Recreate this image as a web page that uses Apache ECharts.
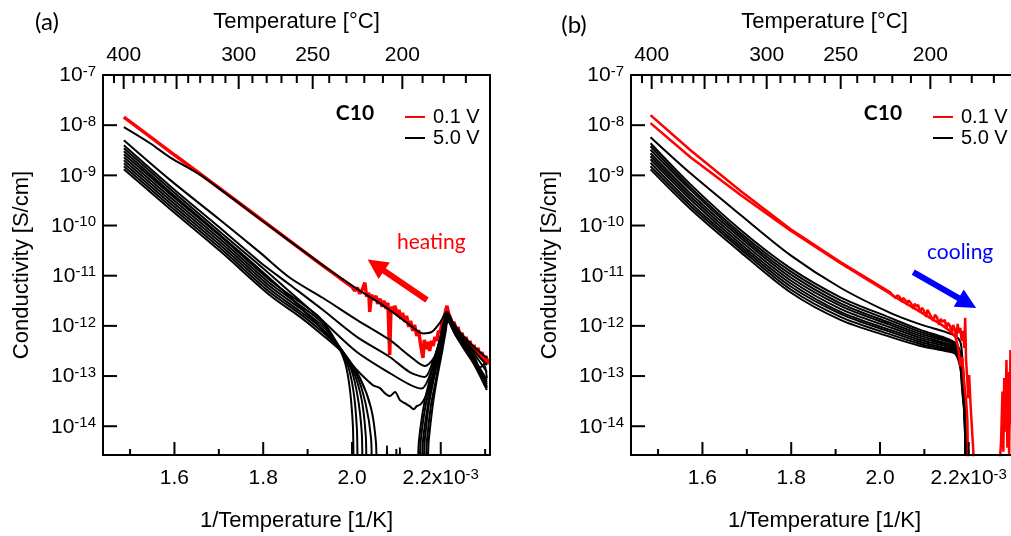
<!DOCTYPE html>
<html>
<head>
<meta charset="utf-8">
<script src="https://cdn.jsdelivr.net/npm/echarts@6/dist/echarts.min.js"></script>
<style>
  html, body { margin: 0; padding: 0; background: #fff; }
  #chart { width: 1011px; height: 536px; }
</style>
</head>
<body>
<div id="chart"></div>
<script>
// x: inverse temperature in 1e-3 K^-1, y: log10 of conductivity in S/cm

// ---- (a) heating run ----
const heatRed = [[1.486,-7.84],[1.545,-8.23],[1.601,-8.60],[1.658,-8.97],[1.714,-9.34],[1.770,-9.71],[1.826,-10.08],[1.883,-10.46],[1.928,-10.76],[1.973,-11.05],[2.000,-11.22],[2.006,-11.30],[2.012,-11.24],[2.018,-11.36],[2.023,-11.28],[2.029,-11.14],[2.033,-11.42],[2.038,-11.34],[2.040,-11.72],[2.044,-11.38],[2.049,-11.48],[2.054,-11.40],[2.058,-11.56],[2.063,-11.46],[2.068,-11.62],[2.072,-11.50],[2.077,-11.66],[2.081,-11.54],[2.085,-12.58],[2.088,-11.62],[2.093,-11.72],[2.097,-11.60],[2.102,-11.78],[2.106,-11.68],[2.110,-11.86],[2.114,-11.74],[2.119,-11.92],[2.123,-11.80],[2.128,-12.02],[2.132,-11.90],[2.137,-12.10],[2.141,-11.98],[2.146,-12.20],[2.150,-12.08],[2.155,-12.40],[2.160,-12.64],[2.163,-12.28],[2.167,-12.46],[2.171,-12.32],[2.175,-12.50],[2.179,-12.30],[2.183,-12.40],[2.187,-12.22],[2.191,-12.30],[2.195,-12.10],[2.199,-12.14],[2.203,-11.92],[2.207,-11.86],[2.211,-11.70],[2.214,-11.60],[2.218,-11.76],[2.222,-11.84],[2.226,-11.98],[2.230,-11.92],[2.235,-12.10],[2.239,-12.02],[2.243,-12.22],[2.248,-12.14],[2.252,-12.34],[2.257,-12.22],[2.261,-12.40],[2.266,-12.30],[2.270,-12.48],[2.275,-12.38],[2.279,-12.56],[2.284,-12.44],[2.288,-12.62],[2.293,-12.52],[2.297,-12.70],[2.302,-12.60],[2.306,-12.76],[2.310,-12.66]];

const heatB1 = [[1.486,-8.04],[1.545,-8.36],[1.590,-8.64],[1.658,-8.99],[1.714,-9.35],[1.770,-9.72],[1.826,-10.09],[1.883,-10.46],[1.928,-10.75],[1.973,-11.03],[2.018,-11.30],[2.063,-11.55],[2.097,-11.76],[2.130,-11.98],[2.160,-12.15],[2.180,-12.12],[2.198,-11.94],[2.214,-11.72],[2.227,-11.92],[2.243,-12.12],[2.266,-12.34],[2.288,-12.52],[2.304,-12.64]];
const heatB2 = [[1.486,-8.30],[1.590,-9.09],[1.703,-9.89],[1.793,-10.54],[1.860,-11.04],[1.934,-11.44],[2.011,-11.88],[2.085,-12.28],[2.130,-12.60],[2.164,-12.80],[2.187,-12.60],[2.200,-12.18],[2.214,-11.76],[2.232,-12.04],[2.254,-12.32],[2.277,-12.58],[2.304,-12.92]];
const heatB3 = [[1.486,-8.40],[1.590,-9.21],[1.703,-10.05],[1.793,-10.73],[1.860,-11.18],[1.934,-11.68],[2.011,-12.22],[2.085,-12.62],[2.130,-12.92],[2.164,-13.02],[2.182,-12.72],[2.198,-12.28],[2.214,-11.80],[2.232,-12.08],[2.254,-12.38],[2.277,-12.68],[2.304,-13.08]];
const heatB4 = [[1.486,-8.46],[1.590,-9.27],[1.703,-10.13],[1.793,-10.80],[1.860,-11.32],[1.934,-11.90],[2.011,-12.52],[2.085,-12.94],[2.130,-13.17],[2.157,-13.25],[2.180,-12.88],[2.198,-12.38],[2.214,-11.82],[2.232,-12.02],[2.254,-12.28],[2.277,-12.52],[2.304,-12.78]];
const heatB5 = [[1.486,-8.52],[1.590,-9.33],[1.703,-10.19],[1.793,-10.88],[1.860,-11.42],[1.934,-12.08],[1.973,-12.48],[1.995,-12.72],[2.011,-12.88],[2.029,-13.04],[2.047,-13.18],[2.063,-13.24],[2.074,-13.34],[2.085,-13.40],[2.097,-13.32],[2.108,-13.48],[2.119,-13.54],[2.130,-13.60],[2.139,-13.66],[2.146,-13.60],[2.155,-13.56],[2.164,-13.44],[2.175,-13.18],[2.187,-12.84],[2.198,-12.44],[2.214,-11.84],[2.232,-12.08],[2.254,-12.36],[2.277,-12.64],[2.288,-12.84],[2.297,-12.76],[2.304,-13.04]];
const heatB6 = [[1.486,-8.58],[1.590,-9.37],[1.703,-10.21],[1.815,-11.09],[1.883,-11.53],[1.928,-11.84],[1.962,-12.28],[1.984,-12.72],[1.995,-13.24],[2.002,-13.98],[2.007,-15.2],[2.142,-15.2],[2.151,-14.28],[2.162,-13.58],[2.175,-13.08],[2.191,-12.52],[2.205,-12.08],[2.214,-11.84],[2.232,-12.10],[2.254,-12.40],[2.277,-12.70],[2.304,-13.12]];
const heatB7 = [[1.486,-8.64],[1.590,-9.43],[1.703,-10.27],[1.815,-11.15],[1.883,-11.59],[1.928,-11.90],[1.966,-12.34],[1.991,-12.80],[2.004,-13.34],[2.011,-14.04],[2.016,-15.2],[2.146,-15.2],[2.155,-14.28],[2.166,-13.58],[2.180,-13.08],[2.193,-12.52],[2.207,-12.08],[2.214,-11.86],[2.232,-12.12],[2.254,-12.42],[2.277,-12.72],[2.304,-13.16]];
const heatB8 = [[1.486,-8.70],[1.590,-9.49],[1.703,-10.33],[1.815,-11.21],[1.883,-11.65],[1.928,-11.96],[1.971,-12.40],[1.998,-12.86],[2.013,-13.42],[2.022,-14.12],[2.027,-15.2],[2.076,-15.2],[2.079,-14.39],[2.081,-15.2],[2.151,-15.2],[2.160,-14.28],[2.171,-13.58],[2.182,-13.08],[2.196,-12.52],[2.207,-12.10],[2.214,-11.88],[2.232,-12.14],[2.254,-12.44],[2.277,-12.76],[2.304,-13.20]];
const heatB9 = [[1.486,-8.76],[1.590,-9.55],[1.703,-10.39],[1.815,-11.27],[1.883,-11.71],[1.928,-12.02],[1.975,-12.46],[2.004,-12.92],[2.022,-13.48],[2.031,-14.18],[2.036,-15.2],[2.155,-15.2],[2.164,-14.28],[2.173,-13.58],[2.184,-13.08],[2.198,-12.52],[2.209,-12.10],[2.216,-11.88],[2.232,-12.14],[2.254,-12.44],[2.277,-12.76],[2.304,-13.22]];
const heatB10 = [[1.486,-8.82],[1.590,-9.61],[1.703,-10.45],[1.815,-11.33],[1.883,-11.76],[1.928,-12.08],[1.980,-12.52],[2.011,-12.98],[2.031,-13.56],[2.043,-14.24],[2.047,-15.2],[2.106,-15.2],[2.108,-14.43],[2.110,-15.2],[2.160,-15.2],[2.169,-14.28],[2.178,-13.58],[2.189,-13.08],[2.200,-12.52],[2.209,-12.12],[2.216,-11.90],[2.232,-12.16],[2.254,-12.46],[2.277,-12.78],[2.304,-13.24]];
const heatB11 = [[1.486,-8.88],[1.590,-9.67],[1.703,-10.51],[1.815,-11.39],[1.883,-11.82],[1.928,-12.14],[1.984,-12.58],[2.018,-13.04],[2.043,-13.64],[2.054,-14.32],[2.058,-15.2],[2.164,-15.2],[2.173,-14.28],[2.182,-13.58],[2.191,-13.08],[2.203,-12.52],[2.211,-12.12],[2.216,-11.90],[2.232,-12.16],[2.254,-12.48],[2.277,-12.80],[2.304,-13.28]];

// ---- (b) cooling run ----
const coolRed1 = [[1.483,-7.80],[1.573,-8.50],[1.686,-9.31],[1.798,-10.07],[1.911,-10.73],[2.023,-11.33],[2.027,-11.38],[2.031,-11.36],[2.036,-11.45],[2.039,-11.39],[2.044,-11.42],[2.049,-11.52],[2.052,-11.44],[2.058,-11.50],[2.061,-11.58],[2.064,-11.49],[2.070,-11.55],[2.075,-11.66],[2.078,-11.56],[2.083,-11.62],[2.086,-11.58],[2.090,-11.72],[2.095,-11.64],[2.099,-11.70],[2.104,-11.82],[2.107,-11.68],[2.112,-11.76],[2.116,-11.74],[2.120,-11.90],[2.124,-11.78],[2.129,-11.84],[2.133,-11.98],[2.137,-11.86],[2.141,-11.92],[2.146,-11.88],[2.150,-12.06],[2.153,-11.94],[2.158,-12.00],[2.162,-12.16],[2.165,-11.98],[2.169,-12.08],[2.172,-12.24],[2.175,-11.96],[2.178,-12.14],[2.181,-12.04],[2.184,-12.30],[2.187,-12.10],[2.190,-12.44],[2.192,-11.84],[2.194,-12.68],[2.197,-13.12],[2.199,-13.44],[2.201,-12.98],[2.204,-13.56],[2.215,-15.2],[2.267,-15.2],[2.273,-14.27],[2.276,-13.31],[2.278,-14.51],[2.280,-13.04],[2.282,-14.11],[2.285,-12.68],[2.287,-14.43],[2.289,-12.92],[2.291,-14.60],[2.294,-12.48],[2.296,-13.97]];
const coolRed2 = [[1.483,-7.96],[1.573,-8.64],[1.686,-9.39],[1.798,-10.10],[1.911,-10.75],[2.023,-11.36],[2.046,-11.49],[2.068,-11.60],[2.091,-11.72],[2.113,-11.84],[2.136,-11.96],[2.158,-12.10],[2.170,-12.22],[2.176,-12.42],[2.181,-12.80],[2.185,-12.62],[2.190,-13.18],[2.194,-13.48],[2.197,-13.88],[2.199,-15.2]];

const coolX = [1.483, 1.573, 1.686, 1.798, 1.911, 2.023, 2.091, 2.147, 2.170, 2.181, 2.185, 2.190, 2.192, 2.194];
const coolB1  = [-8.24,-8.96,-9.79,-10.59,-11.24,-11.74,-11.97,-12.12,-12.20,-12.32,-12.58,-13.18,-13.88,-15.2];
const coolB2  = [-8.36,-9.18,-10.09,-10.85,-11.43,-11.84,-12.08,-12.24,-12.34,-12.52,-12.78,-13.38,-13.98,-15.2];
const coolB3  = [-8.42,-9.24,-10.15,-10.91,-11.49,-11.89,-12.12,-12.27,-12.37,-12.56,-12.84,-13.42,-14.02,-15.2];
const coolB4  = [-8.49,-9.29,-10.20,-10.97,-11.55,-11.94,-12.16,-12.30,-12.40,-12.60,-12.90,-13.48,-14.06,-15.2];
const coolB5  = [-8.56,-9.36,-10.25,-11.03,-11.60,-11.98,-12.20,-12.34,-12.42,-12.64,-12.96,-13.52,-14.10,-15.2];
const coolB6  = [-8.62,-9.42,-10.31,-11.09,-11.66,-12.03,-12.24,-12.37,-12.45,-12.68,-13.02,-13.58,-14.16,-15.2];
const coolB7  = [-8.68,-9.48,-10.37,-11.15,-11.72,-12.08,-12.28,-12.40,-12.48,-12.72,-13.08,-13.62,-14.20,-15.2];
const coolB8  = [-8.75,-9.55,-10.42,-11.21,-11.76,-12.12,-12.32,-12.44,-12.50,-12.76,-13.14,-13.66,-14.24,-15.2];
const coolB9  = [-8.82,-9.61,-10.47,-11.27,-11.82,-12.17,-12.36,-12.47,-12.53,-12.80,-13.20,-13.72,-14.28,-15.2];
const coolB10 = [-8.88,-9.67,-10.53,-11.33,-11.88,-12.22,-12.40,-12.50,-12.56,-12.84,-13.26,-13.76,-14.32,-15.2];

// ---- axis ticks ----
const invTMajor = [1.6, 1.8, 2.0, 2.2];
const invTMinor = [1.5, 1.7, 1.9, 2.1, 2.3];
const tempLabels = [400, 300, 250, 200];
const tempMajor = [400, 350, 300, 250, 200];
const tempMinor = [410, 390, 380, 370, 360, 340, 330, 320, 310, 290, 280, 270, 260, 240, 230, 220, 210, 190, 180, 170];
const sigmaDecades = [-14, -13, -12, -11, -10, -9, -8];

// ---- panel layout ----
const X_MIN = 1.439, X_MAX = 2.311;
const Y_MIN = 2.67e-15, Y_MAX = 1e-7;
const GRID_W = 387, GRID_H = 380;

const FONT = '"Liberation Sans", Arial, sans-serif';
const FONT_C = 'Lato, "Open Sans", sans-serif';
const RED = '#ff0000', BLACK = '#000000', BLUE = '#0000ff';

const toInvT = c => 1000 / (c + 273.15);
const pairs = arr => arr.map(([x, lg]) => [x, Math.pow(10, lg)]);
const shared = (xs, lgs) => xs.map((x, i) => [x, Math.pow(10, lgs[i])]);

const frameLine = () => ({ show: true, onZero: false, lineStyle: { color: '#000', width: 2 } });
const labelRich = {
  b: { fontFamily: FONT, fontSize: 21, color: '#000', lineHeight: 22, verticalAlign: 'bottom' },
  s: { fontFamily: FONT, fontSize: 15, color: '#000', lineHeight: 16, verticalAlign: 'top', padding: [0, 0, 14, 0] },
  e: { fontFamily: FONT, fontSize: 15, color: '#000', lineHeight: 16, verticalAlign: 'top', padding: [0, 0, 15, 0] }
};
const nameStyle = { fontFamily: FONT, fontSize: 22, color: '#000' };

function xAxesFor(g) {
  const base = () => ({ gridIndex: g, type: 'value', min: X_MIN, max: X_MAX, z: 5,
    splitLine: { show: false }, axisLine: frameLine(), axisTick: { show: false }, nameMoveOverlap: false });
  return [
    Object.assign(base(), {
      position: 'bottom',
      axisLabel: { customValues: invTMajor, margin: 12, rich: labelRich,
        formatter: v => Math.abs(v - 2.2) < 1e-6 ? '{b|2.2x10}{e|-3}' : '{b|' + v.toFixed(1) + '}' },
      name: '1/Temperature [1/K]', nameLocation: 'middle', nameGap: 55, nameTextStyle: nameStyle
    }),
    Object.assign(base(), {
      position: 'top',
      axisLabel: { customValues: tempLabels.map(toInvT), margin: 9, rich: labelRich,
        formatter: v => '{b|' + Math.round(1000 / v - 273.15) + '}' },
      name: 'Temperature [°C]', nameLocation: 'middle', nameGap: 42, nameTextStyle: nameStyle
    })
  ];
}

function yAxesFor(g) {
  return [{
    gridIndex: g, type: 'log', logBase: 10, min: Y_MIN, max: Y_MAX, position: 'left', z: 5,
    splitLine: { show: false }, axisLine: frameLine(), minorTick: { show: false },
    axisTick: { show: false },
    axisLabel: { margin: 7, rich: labelRich,
      formatter: v => {
        const e = Math.log10(v), r = Math.round(e);
        return Math.abs(e - r) > 1e-6 ? '' : '{b|10}{s|' + r + '}';
      } },
    name: 'Conductivity [S/cm]', nameLocation: 'middle', nameRotate: 90, nameGap: 70,
    nameTextStyle: nameStyle, nameMoveOverlap: false
  }, {
    // right-hand frame edge
    gridIndex: g, type: 'value', min: 0, max: 1, position: 'right', z: 5,
    axisLine: frameLine(), axisTick: { show: false }, axisLabel: { show: false },
    splitLine: { show: false }
  }];
}

// Inward tick marks drawn as short two-point lines on each panel's own axes
const decadePx = GRID_H / (Math.log10(Y_MAX) - Math.log10(Y_MIN));
const xUnitPx = GRID_W / (X_MAX - X_MIN);
function tickSeriesFor(g) {
  const out = [];
  const seg = (a, b) => out.push({
    type: 'line', name: 'tick', data: [a, b], xAxisIndex: g * 2, yAxisIndex: g * 2,
    color: BLACK, showSymbol: false, symbol: 'none', silent: true, clip: false, z: 10,
    emphasis: { disabled: true },
    lineStyle: { color: BLACK, width: 2, opacity: 1 }
  });
  const xTick = (v, len, top) => {
    const f = Math.pow(10, len / decadePx);
    if (top) seg([v, Y_MAX], [v, Y_MAX / f]);
    else seg([v, Y_MIN], [v, Y_MIN * f]);
  };
  invTMajor.forEach(v => xTick(v, 13, false));
  invTMinor.forEach(v => xTick(v, 6, false));
  tempMajor.forEach(c => xTick(toInvT(c), 14, true));
  tempMinor.forEach(c => xTick(toInvT(c), 8, true));
  sigmaDecades.forEach(e => {
    const s = Math.pow(10, e);
    seg([X_MIN, s], [X_MIN + 14 / xUnitPx, s]);
  });
  return out;
}

function curve(name, data, color, width, xi, yi, extra) {
  return Object.assign({
    type: 'line', name: name, data: data, xAxisIndex: xi, yAxisIndex: yi,
    color: color, showSymbol: false, symbol: 'none', clip: true, silent: true,
    lineStyle: { color: color, width: width }, emphasis: { disabled: true }
  }, extra || {});
}

const smoothed = { smooth: 0.3 };

function arrow(coordFrom, coordTo, color) {
  return {
    markLine: {
      silent: true, symbol: ['none', 'triangle'], symbolSize: [20, 20],
      label: { show: false }, emphasis: { disabled: true },
      lineStyle: { color: color, width: 6, type: 'solid' },
      data: [[{ coord: coordFrom }, { coord: coordTo }]]
    }
  };
}

const heatBlack = [heatB1, heatB2, heatB3, heatB4, heatB5, heatB6, heatB7, heatB8, heatB9, heatB10, heatB11];
const coolBlack = [coolB1, coolB2, coolB3, coolB4, coolB5, coolB6, coolB7, coolB8, coolB9, coolB10];

const series = [
  curve('0.1 V', pairs(heatRed), RED, 3.5, 0, 0,
    arrow([2.169, 3.27e-12], [2.054, 1.62e-11], RED)),
  ...heatBlack.map(d => curve('5.0 V', pairs(d), BLACK, 2, 0, 0, smoothed)),
  ...coolBlack.map(d => curve('5.0 V', shared(coolX, d), BLACK, 2, 2, 2, smoothed)),
  curve('0.1 V', pairs(coolRed2), RED, 2.5, 2, 2),
  curve('0.1 V', pairs(coolRed1), RED, 2.5, 2, 2,
    arrow([2.075, 1.18e-11], [2.197, 2.84e-12], BLUE)),
  ...tickSeriesFor(0),
  ...tickSeriesFor(1)
];

function legendAt(left) {
  return {
    left: left, top: 102, orient: 'vertical', icon: 'rect', itemWidth: 20, itemHeight: 2,
    itemGap: 1, selectedMode: false, data: ['0.1 V', '5.0 V'],
    textStyle: { fontFamily: FONT, fontSize: 20, color: '#000', lineHeight: 20, padding: [0, 0, 0, 3] }
  };
}

function label(text, x, y, font, color, align) {
  return { type: 'text', x: x, y: y, silent: true, z: 20,
    style: { text: text, font: font, fill: color, textAlign: align || 'center', textVerticalAlign: 'middle' } };
}

const chart = echarts.init(document.getElementById('chart'), null, { renderer: 'canvas' });
chart.setOption({
  animation: false,
  backgroundColor: '#ffffff',
  grid: [
    { left: 103, top: 75, width: GRID_W, height: GRID_H, show: false, containLabel: false, outerBoundsMode: 'none' },
    { left: 631, top: 75, width: GRID_W, height: GRID_H, show: false, containLabel: false, outerBoundsMode: 'none' }
  ],
  xAxis: [...xAxesFor(0), ...xAxesFor(1)],
  yAxis: [...yAxesFor(0), ...yAxesFor(1)],
  legend: [legendAt(400), legendAt(928)],
  graphic: [
    label('(a)', 47, 22, '24px ' + FONT_C, '#000'),
    label('(b)', 574, 25, '24px ' + FONT_C, '#000'),
    label('C10', 355, 113, 'bold 21px ' + FONT_C, '#000'),
    label('C10', 883, 113, 'bold 21px ' + FONT_C, '#000'),
    label('heating', 397, 242, '21px ' + FONT_C, RED, 'left'),
    label('cooling', 927, 252, '21px ' + FONT_C, BLUE, 'left')
  ],
  series: series
});
</script>
</body>
</html>
